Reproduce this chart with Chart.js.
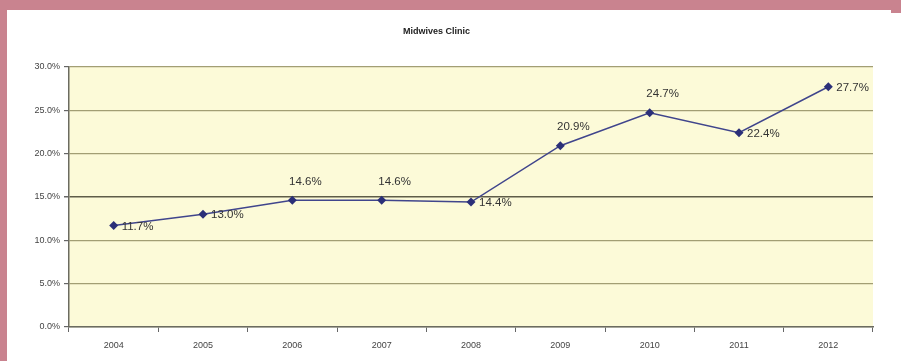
<!DOCTYPE html>
<html>
<head>
<meta charset="utf-8">
<title>Midwives Clinic</title>
<script src="https://cdn.jsdelivr.net/npm/chart.js@4/dist/chart.umd.min.js"></script>
<style>
  html, body { margin: 0; padding: 0; background: #ffffff; }
  #wrap { position: relative; width: 901px; height: 361px; overflow: hidden; }
  .frame { position: absolute; background: #c9838f; }
  #frameTop { left: 0; top: 0; width: 901px; height: 10px; }
  #frameLeft { left: 0; top: 0; width: 7px; height: 361px; }
  #frameCorner { right: 0; top: 0; width: 10px; height: 13px; }
  canvas { position: absolute; left: 0; top: 0; }
</style>
</head>
<body>
<div id="wrap">
  <div class="frame" id="frameTop"></div>
  <div class="frame" id="frameLeft"></div>
  <div class="frame" id="frameCorner"></div>
  <canvas id="myChart" width="901" height="361"></canvas>
</div>
<script>
// años y porcentaje de la clínica
const anios = ['2004', '2005', '2006', '2007', '2008', '2009', '2010', '2011', '2012'];
const porcentajes = [11.7, 13.0, 14.6, 14.6, 14.4, 20.9, 24.7, 22.4, 27.7];
const ticksY = [0, 5, 10, 15, 20, 25, 30];

// donde va cada etiqueta respecto al punto
const posEtiqueta = ['right', 'right', 'top', 'top', 'right', 'top', 'top', 'right', 'right'];

// fondo amarillo del area de la grafica
const fondoArea = {
  id: 'fondoArea',
  beforeDraw(chart) {
    const { ctx, chartArea } = chart;
    ctx.save();
    ctx.fillStyle = '#fcfad8';
    ctx.fillRect(chartArea.left, chartArea.top, chartArea.right - chartArea.left, chartArea.bottom - chartArea.top);
    ctx.restore();
  }
};

// etiquetas de valor junto a cada punto
const etiquetas = {
  id: 'etiquetas',
  afterDatasetsDraw(chart) {
    const ctx = chart.ctx;
    const meta = chart.getDatasetMeta(0);
    ctx.save();
    ctx.font = '11.5px Arial, "Liberation Sans", sans-serif';
    ctx.fillStyle = '#333333';
    ctx.textBaseline = 'middle';
    meta.data.forEach((pt, i) => {
      const txt = porcentajes[i].toFixed(1) + '%';
      if (posEtiqueta[i] === 'top') {
        ctx.textAlign = 'center';
        ctx.fillText(txt, pt.x + 13, pt.y - 19);
      } else {
        ctx.textAlign = 'left';
        ctx.fillText(txt, pt.x + 8, pt.y + 1);
      }
    });
    ctx.restore();
  }
};

const ctx = document.getElementById('myChart').getContext('2d');
const myChart = new Chart(ctx, {
  type: 'line',
  data: {
    labels: anios,
    datasets: [{
      label: 'Midwives Clinic',
      data: porcentajes,
      borderColor: '#40458c',
      backgroundColor: '#2b2f78',
      borderWidth: 1.5,
      pointStyle: 'rectRot',
      pointRadius: 4.5,
      pointBorderWidth: 0,
      tension: 0
    }]
  },
  options: {
    responsive: false,
    animation: false,
    layout: { padding: { top: 10, right: 28, bottom: 0, left: 0 } },
    plugins: {
      legend: { display: false },
      tooltip: { enabled: false },
      title: {
        display: true,
        text: 'Midwives Clinic',
        color: '#222222',
        font: { family: 'Arial, "Liberation Sans", sans-serif', size: 9, weight: 'bold' },
        padding: { top: 16, bottom: 30 }
      }
    },
    scales: {
      x: {
        offset: true,
        afterFit(scale) { scale.height = 34; },
        grid: {
          offset: true,
          drawOnChartArea: false,
          drawTicks: true,
          tickLength: 5,
          color: '#666666'
        },
        border: { color: '#6b6b60', width: 1.5 },
        ticks: {
          color: '#444444',
          padding: 8,
          font: { family: 'Arial, "Liberation Sans", sans-serif', size: 9 }
        }
      },
      y: {
        min: 0,
        max: 30,
        afterFit(scale) { scale.width = 69; },
        afterBuildTicks(scale) { scale.ticks = ticksY.map(v => ({ value: v })); },
        grid: {
          color: c => c.tick && c.tick.value === 15 ? '#5e5c48' : '#a29e74',
          lineWidth: c => c.tick && c.tick.value === 15 ? 1.5 : 1.2,
          tickLength: 5,
          tickColor: '#666666'
        },
        border: { color: '#6b6b60', width: 1.5 },
        ticks: {
          color: '#444444',
          padding: 4,
          font: { family: 'Arial, "Liberation Sans", sans-serif', size: 9 },
          callback: v => v.toFixed(1) + '%'
        }
      }
    }
  },
  plugins: [fondoArea, etiquetas]
});
</script>
</body>
</html>
